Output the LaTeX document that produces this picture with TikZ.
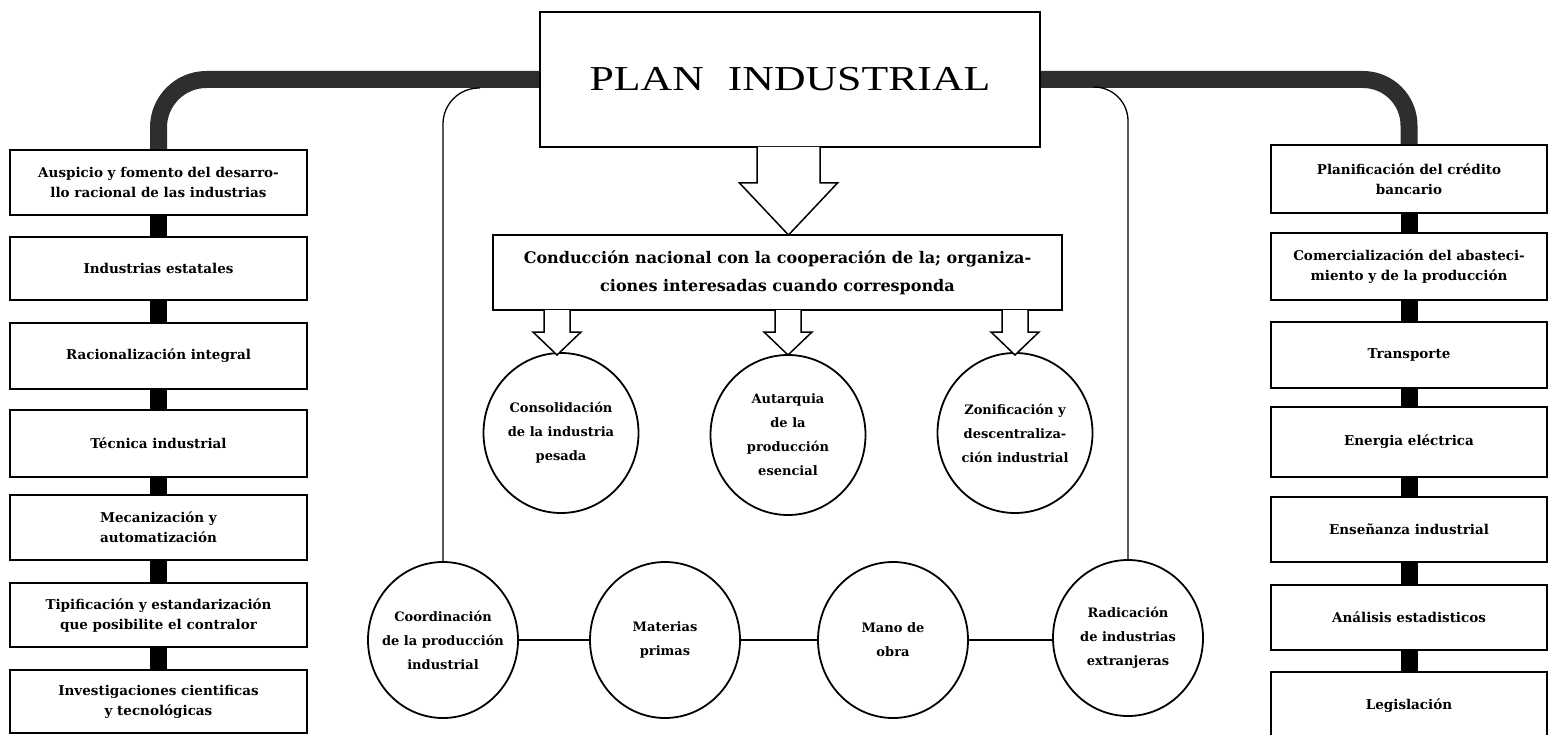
\documentclass[tikz,border=0pt]{standalone}
\usepackage{fontspec}
\usetikzlibrary{shapes.geometric,calc}
\newfontfamily\boxfont{DejaVu Serif}
\newfontfamily\titlefont{Liberation Serif}
\definecolor{barcol}{gray}{0.18}
\newcommand\hollowarrow[6]{%
  \draw[hollowarr] (#1-#5,#2) -- (#1-#5,#3) -- (#1-#6,#3) -- (#1,#4) -- (#1+#6,#3) -- (#1+#5,#3) -- (#1+#5,#2);}
\begin{document}
\begin{tikzpicture}[x=1pt,y=-1pt,
  colbox/.style={draw, line width=1.8pt, fill=white, inner sep=0pt, align=center,
    font=\boxfont\bfseries\fontsize{13.5}{20}\selectfont},
  lbox/.style={colbox, minimum width=297pt},
  rbox/.style={colbox, minimum width=276pt},
  circ/.style={ellipse, draw, line width=1.8pt, fill=white, inner sep=-14pt,
    minimum width=155pt, minimum height=160pt, align=center,
    font=\boxfont\bfseries\fontsize{13}{24}\selectfont},
  lowcirc/.style={circ, minimum width=150pt, minimum height=156pt},
  linkbar/.style={line width=17pt, draw=black, line cap=butt},
  bigbar/.style={line width=17pt, draw=barcol, line cap=butt},
  thinline/.style={line width=1.3pt},
  hollowarr/.style={line width=1.5pt, fill=white, line join=miter},
  circlink/.style={line width=1.8pt}
]
\useasboundingbox (0,0) rectangle (1549,735);
\clip (0,0) rectangle (1549,735);

% title
\node[draw, line width=2.4pt, fill=white, minimum width=500pt, minimum height=135pt, inner sep=0pt,
  font=\titlefont\fontsize{35}{40}\selectfont] (title) at (790,79.5)
  {\scalebox{1.25}[1]{PLAN\hspace{0.55em}INDUSTRIAL}};

% left column
\node[lbox, minimum height=65pt] (l1) at (158.5,182.5) {Auspicio y fomento del desarro-\\llo racional de las industrias};
\node[lbox, minimum height=63pt] (l2) at (158.5,268.5) {Industrias estatales};
\node[lbox, minimum height=66pt] (l3) at (158.5,356) {Racionalización integral};
\node[lbox, minimum height=67pt] (l4) at (158.5,443.5) {Técnica industrial};
\node[lbox, minimum height=65pt] (l5) at (158.5,527.5) {Mecanización y\\automatización};
\node[lbox, minimum height=64pt] (l6) at (158.5,615) {Tipificación y estandarización\\que posibilite el contralor};
\node[lbox, minimum height=63pt] (l7) at (158.5,701.5) {Investigaciones cientificas\\y tecnológicas};

% right column
\node[rbox, minimum height=68pt] (r1) at (1409,179) {Planificación del crédito\\bancario};
\node[rbox, minimum height=67pt] (r2) at (1409,266.5) {Comercialización del abasteci-\\miento y de la producción};
\node[rbox, minimum height=66pt] (r3) at (1409,355) {Transporte};
\node[rbox, minimum height=70pt] (r4) at (1409,442) {Energia eléctrica};
\node[rbox, minimum height=65pt] (r5) at (1409,529.5) {Enseñanza industrial};
\node[rbox, minimum height=65pt] (r6) at (1409,617.5) {Análisis estadisticos};
\node[rbox, minimum height=68pt] (r7) at (1409,706) {Legislación};

% connectors between column boxes
\foreach \a/\b in {l1/l2,l2/l3,l3/l4,l4/l5,l5/l6,l6/l7,r1/r2,r2/r3,r3/r4,r4/r5,r5/r6,r6/r7}
  \draw[linkbar] (\a.south) -- (\b.north);

% conduction box
\node[draw, line width=1.8pt, fill=white, minimum width=569pt, minimum height=75pt, inner sep=0pt,
  align=center, font=\boxfont\bfseries\fontsize{16}{28}\selectfont] (cond) at (777.5,272.5)
  {Conducción nacional con la cooperación de la; organiza-\\ciones interesadas cuando corresponda};

% upper circles
\node[circ] (cons) at (561,433) {Consolidación\\de la industria\\pesada};
\node[circ] (aut) at (788,435) {Autarquia\\de la\\producción\\esencial};
\node[circ] (zon) at (1015,433) {Zonificación y\\descentraliza-\\ción industrial};

% lower circles
\node[lowcirc] (coord) at (443,640) {Coordinación\\de la producción\\industrial};
\node[lowcirc] (mat) at (665,640) {Materias\\primas};
\node[lowcirc] (mano) at (893,640) {Mano de\\obra};
\node[lowcirc] (rad) at (1128,638) {Radicación\\de industrias\\extranjeras};

\draw[circlink] (coord.east) -- (mat.west);
\draw[circlink] (mat.east) -- (mano.west);
\draw[circlink] (mano.east) -- (mano.east -| rad.west);

% thick bars
\draw[bigbar, rounded corners=48pt] (title.west) -| (l1.north);
\draw[bigbar, rounded corners=46pt] (title.east) -| (r1.north);

% thin lines
\coordinate (tla) at (480,88);
\coordinate (tra) at (1093,87);
\draw[thinline, rounded corners=36pt] (tla) -| (coord.north);
\draw[thinline, rounded corners=34pt] (tra) -| (rad.north);

% hollow arrows
\hollowarrow{788.5}{147}{183}{235}{31.5}{49}
\hollowarrow{557}{310}{332}{355}{13}{24}
\hollowarrow{788}{310}{332}{355}{13}{24}
\hollowarrow{1015}{310}{332}{355}{13}{24}
\end{tikzpicture}
\end{document}
